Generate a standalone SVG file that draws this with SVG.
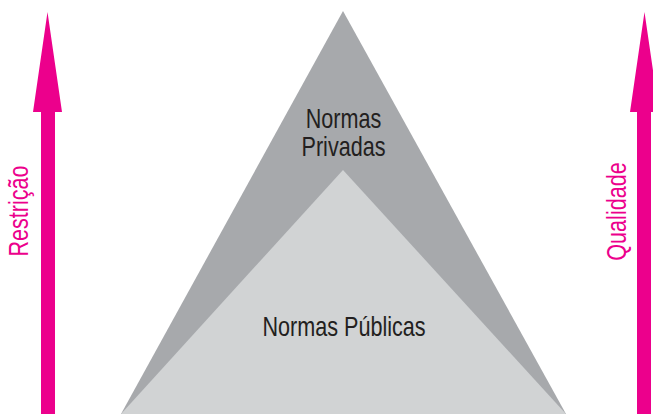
<svg xmlns="http://www.w3.org/2000/svg" width="653" height="414" viewBox="0 0 653 414">
<style>
.arrow{fill:#EC008C}
.lbl{font-family:"Liberation Sans",Arial,sans-serif;font-size:27px;fill:#231F20;text-anchor:middle}
.axis{font-family:"Liberation Sans",Arial,sans-serif;font-size:27px;fill:#EC008C;text-anchor:middle}
</style>
<rect width="653" height="414" fill="#fff"/>
<g id="privadas">
<polygon points="343,11 121,414 566,414" fill="#A7A9AC"/>
<text class="lbl" transform="translate(343.5,128) scale(0.8,1)">Normas</text>
<text class="lbl" transform="translate(343.5,156) scale(0.8,1)">Privadas</text>
</g>
<g id="publicas">
<polygon points="343,170 121,414 566,414" fill="#D1D3D4"/>
<text class="lbl" transform="translate(344,336) scale(0.8,1)">Normas Públicas</text>
</g>
<g id="restricao">
<polygon class="arrow" points="47.5,12 62,112 55,112 55,414 41,414 41,112 33,112"/>
<text class="axis" transform="translate(28,211) rotate(-90) scale(0.8,1)">Restrição</text>
</g>
<g id="qualidade">
<polygon class="arrow" points="644.5,12 659,112 651,112 651,414 637,414 637,112 630,112"/>
<text class="axis" transform="translate(626,211.5) rotate(-90) scale(0.8,1)">Qualidade</text>
</g>
</svg>
